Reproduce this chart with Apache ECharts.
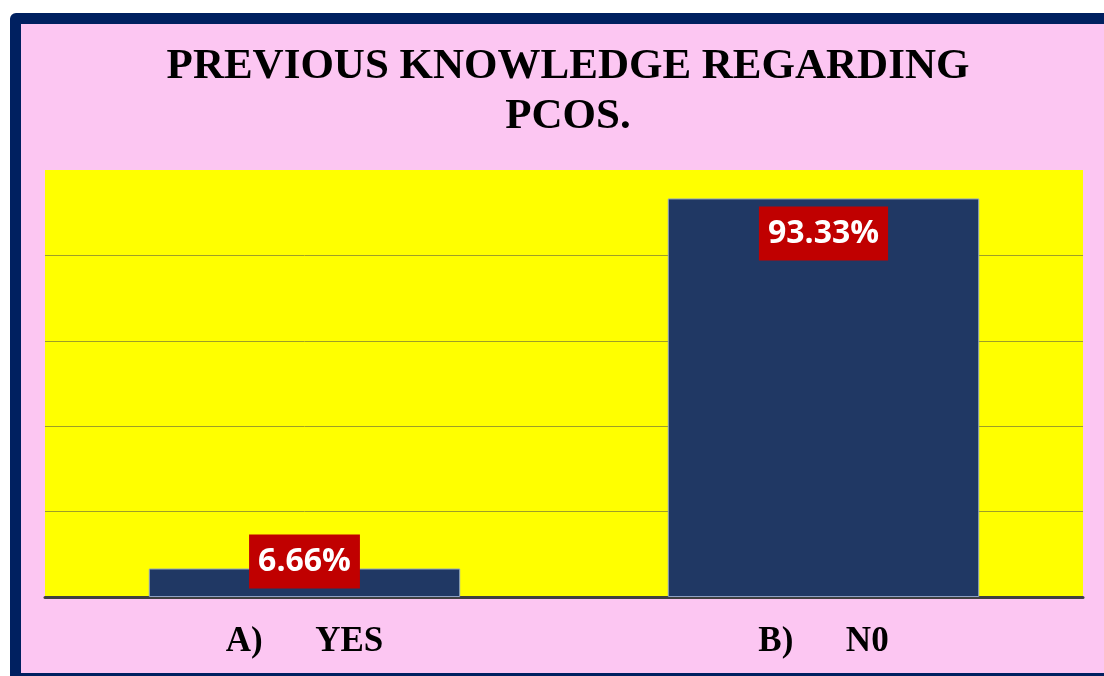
<!DOCTYPE html>
<html>
<head>
<meta charset="utf-8">
<script src="https://cdn.jsdelivr.net/npm/echarts@6/dist/echarts.min.js"></script>
<style>
  html, body { margin: 0; padding: 0; background: #fff; overflow: hidden; }
  .frame {
    position: absolute; left: 10px; top: 13px;
    width: 1200px; height: 671px; box-sizing: border-box;
    border: 11px solid #002060; border-radius: 6px;
    background: #FCC6F2;
  }
  #main { position: absolute; left: 0; top: 0; width: 1104px; height: 676px; }
</style>
</head>
<body>
<div class="frame"></div>
<div id="main"></div>
<script>
// data
const categories = ['A)      YES', 'B)      N0'];
const values = [6.66, 93.33];
const valueLabels = ['6.66%', '93.33%'];

let myChart = echarts.init(document.getElementById('main'));

let labelBox = {
  show: true,
  color: '#fff',
  fontFamily: 'Open Sans',
  fontWeight: 'bold',
  fontSize: 32,
  lineHeight: 32,
  backgroundColor: '#C00000',
  padding: [11, 9],
  formatter: function(p){
    return valueLabels[p.dataIndex];
  }
};

let option = {
  backgroundColor: 'transparent',
  title: {
    text: 'PREVIOUS KNOWLEDGE REGARDING\nPCOS.',
    left: 563,
    textAlign: 'center',
    top: 37,
    textStyle: {
      fontFamily: 'Liberation Serif',
      fontWeight: 'bold',
      fontSize: 43,
      lineHeight: 50,
      color: '#000'
    }
  },
  grid: {
    left: 45,
    right: 21,
    top: 170,
    bottom: 79,
    show: true,
    backgroundColor: '#FFFF00',
    borderWidth: 0
  },
  xAxis: {
    type: 'category',
    data: categories,
    axisTick: { show: false },
    axisLine: { lineStyle: { color: '#404040', width: 3 } },
    axisLabel: {
      margin: 27,
      fontFamily: 'Liberation Serif',
      fontWeight: 'bold',
      fontSize: 35,
      color: '#000'
    }
  },
  yAxis: {
    type: 'value',
    min: 0,
    max: 100,
    interval: 20,
    axisLabel: { show: false },
    axisLine: { show: false },
    axisTick: { show: false },
    splitLine: {
      showMaxLine: false,
      lineStyle: { color: '#9E9E28', width: 1 }
    }
  },
  series: [
    {
      type: 'bar',
      barWidth: '60%',
      itemStyle: {
        color: '#203864',
        borderColor: '#8FA2C4',
        borderWidth: 1
      },
      data: [
        { value: values[0], label: Object.assign({}, labelBox, { position: 'top', distance: -20 }) },
        { value: values[1], label: Object.assign({}, labelBox, { position: 'insideTop', distance: 8 }) }
      ]
    }
  ]
};
myChart.setOption(option);
</script>
</body>
</html>
